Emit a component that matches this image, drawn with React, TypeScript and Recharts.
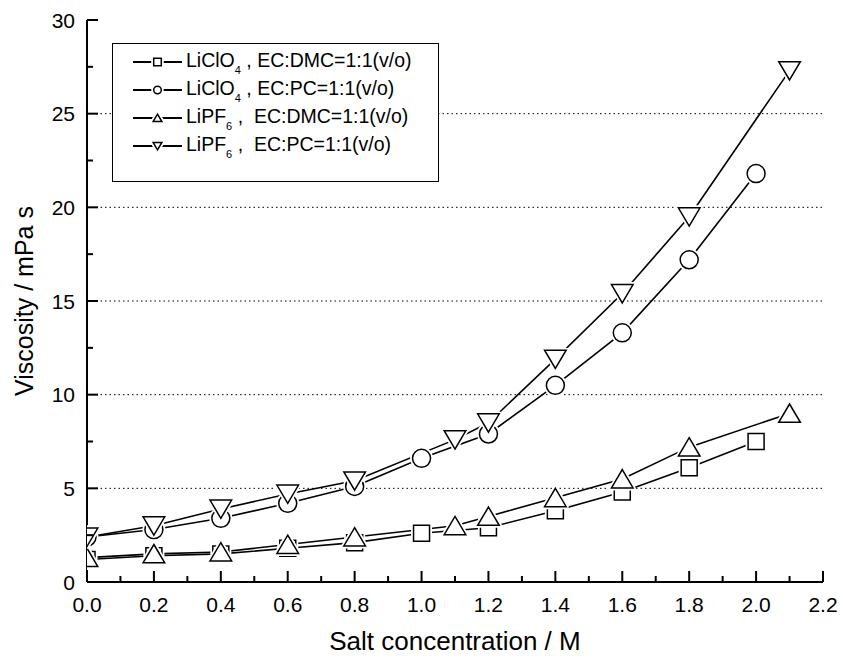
import React from 'react'
import { LineChart, Line, XAxis, YAxis, CartesianGrid, Legend } from 'recharts'

// axis ticks (major + minor)
const xTicks = [0, 0.1, 0.2, 0.3, 0.4, 0.5, 0.6, 0.7, 0.8, 0.9, 1.0, 1.1, 1.2, 1.3, 1.4, 1.5, 1.6, 1.7, 1.8, 1.9, 2.0, 2.1, 2.2]
const yTicks = [0, 2.5, 5, 7.5, 10, 12.5, 15, 17.5, 20, 22.5, 25, 27.5, 30]
const yGridValues = [5, 10, 15, 20, 25]

// LiClO4, EC:DMC
const clo4DmcX = [0, 0.2, 0.4, 0.6, 0.8, 1.0, 1.2, 1.4, 1.6, 1.8, 2.0]
const clo4DmcY = [1.2, 1.4, 1.5, 1.8, 2.1, 2.6, 2.9, 3.8, 4.8, 6.1, 7.5]
// LiClO4, EC:PC
const clo4PcX = [0, 0.2, 0.4, 0.6, 0.8, 1.0, 1.2, 1.4, 1.6, 1.8, 2.0]
const clo4PcY = [2.4, 2.8, 3.4, 4.2, 5.1, 6.6, 7.9, 10.5, 13.3, 17.2, 21.8]
// LiPF6, EC:DMC
const pf6DmcX = [0, 0.2, 0.4, 0.6, 0.8, 1.1, 1.2, 1.4, 1.6, 1.8, 2.1]
const pf6DmcY = [1.3, 1.5, 1.6, 2.0, 2.4, 3.0, 3.5, 4.5, 5.5, 7.2, 9.0]
// LiPF6, EC:PC
const pf6PcX = [0, 0.2, 0.4, 0.6, 0.8, 1.1, 1.2, 1.4, 1.6, 1.8, 2.1]
const pf6PcY = [2.4, 3.0, 3.9, 4.7, 5.4, 7.6, 8.5, 11.9, 15.4, 19.5, 27.3]

type Shape = 'square' | 'circle' | 'up' | 'down'

const toPoints = (xs: number[], ys: number[]) => xs.map((x, i) => ({ x, y: ys[i] }))

const series: { key: string; salt: string; sub: string; solvent: string; shape: Shape; data: { x: number; y: number }[] }[] = [
  { key: 'clo4Dmc', salt: 'LiClO', sub: '4', solvent: ' , EC:DMC=1:1(v/o)', shape: 'square', data: toPoints(clo4DmcX, clo4DmcY) },
  { key: 'clo4Pc', salt: 'LiClO', sub: '4', solvent: ' , EC:PC=1:1(v/o)', shape: 'circle', data: toPoints(clo4PcX, clo4PcY) },
  { key: 'pf6Dmc', salt: 'LiPF', sub: '6', solvent: ' ,  EC:DMC=1:1(v/o)', shape: 'up', data: toPoints(pf6DmcX, pf6DmcY) },
  { key: 'pf6Pc', salt: 'LiPF', sub: '6', solvent: ' ,  EC:PC=1:1(v/o)', shape: 'down', data: toPoints(pf6PcX, pf6PcY) },
]

const FONT = '"Liberation Sans", Arial, sans-serif'

function markerPath(shape: Shape, cx: number, cy: number, s: number) {
  // s = half size
  if (shape === 'square') return `M${cx - s},${cy - s}H${cx + s}V${cy + s}H${cx - s}Z`
  if (shape === 'up') return `M${cx},${cy - s}L${cx + s * 1.15},${cy + s * 0.95}H${cx - s * 1.15}Z`
  if (shape === 'down') return `M${cx},${cy + s}L${cx + s * 1.15},${cy - s * 0.95}H${cx - s * 1.15}Z`
  return ''
}

function Marker({ shape, cx, cy, s, halo }: { shape: Shape; cx: number; cy: number; s: number; halo?: boolean }) {
  if (shape === 'circle') {
    return (
      <g>
        {halo && <circle cx={cx} cy={cy} r={s} fill="#fff" stroke="#fff" strokeWidth={5} />}
        <circle cx={cx} cy={cy} r={s} fill="#fff" stroke="#000" strokeWidth={1.5} />
      </g>
    )
  }
  const d = markerPath(shape, cx, cy, s)
  return (
    <g>
      {halo && <path d={d} fill="#fff" stroke="#fff" strokeWidth={5} strokeLinejoin="round" />}
      <path d={d} fill="#fff" stroke="#000" strokeWidth={1.5} />
    </g>
  )
}

const markerSize: Record<Shape, number> = { square: 8, circle: 9, up: 9.4, down: 9.4 }

const isMajorX = (v: number) => Math.round(v * 10) % 2 === 0
const isMajorY = (v: number) => v % 5 === 0

function BottomTick(props: any) {
  const { x, y, payload } = props
  const major = isMajorX(payload.value)
  return (
    <g>
      <line x1={x} x2={x} y1={y} y2={y - (major ? 11 : 6)} stroke="#000" strokeWidth={2} />
      {major && (
        <text x={x} y={y + 30} textAnchor="middle" fontSize={21} fontFamily={FONT} fill="#000">
          {payload.value.toFixed(1)}
        </text>
      )}
    </g>
  )
}

function TopTick(props: any) {
  const { x, y, payload } = props
  const major = isMajorX(payload.value)
  return <line x1={x} x2={x} y1={y} y2={y + (major ? 11 : 6)} stroke="#000" strokeWidth={2} />
}

function LeftTick(props: any) {
  const { x, y, payload } = props
  const major = isMajorY(payload.value)
  return (
    <g>
      <line x1={x} x2={x + (major ? 11 : 6)} y1={y} y2={y} stroke="#000" strokeWidth={2} />
      {major && (
        <text x={x - 12} y={y + 7.5} textAnchor="end" fontSize={21} fontFamily={FONT} fill="#000">
          {payload.value}
        </text>
      )}
    </g>
  )
}

function RightTick(props: any) {
  const { x, y, payload } = props
  const major = isMajorY(payload.value)
  return <line x1={x} x2={x - (major ? 11 : 6)} y1={y} y2={y} stroke="#000" strokeWidth={2} />
}

function LegendBox() {
  return (
    <div
      style={{
        width: 327,
        height: 139,
        boxSizing: 'border-box',
        border: '1.5px solid #000',
        background: '#fff',
        paddingTop: 4,
        paddingLeft: 20,
        fontFamily: FONT,
        fontSize: 19.5,
        color: '#000',
      }}
    >
      {series.map((s) => (
        <div key={s.key} style={{ display: 'flex', alignItems: 'center', height: 28, whiteSpace: 'pre' }}>
          <svg width={49} height={20} style={{ display: 'block' }}>
            <line x1={0} x2={49} y1={10} y2={10} stroke="#000" strokeWidth={1.8} />
            <Marker shape={s.shape} cx={24.5} cy={10} s={3.8} halo />
          </svg>
          <span style={{ marginLeft: 4 }}>
            {s.salt}
            <sub style={{ fontSize: 11, verticalAlign: -7 }}>{s.sub}</sub>
            {s.solvent}
          </span>
        </div>
      ))}
    </div>
  )
}

export default function App() {
  return (
    <div style={{ position: 'absolute', left: 0, top: 0, background: '#fff' }}>
      <LineChart width={843} height={661} margin={{ top: 20, right: 20, bottom: 0, left: 0 }} style={{ fontFamily: FONT }}>
        <CartesianGrid
          xAxisId="b"
          yAxisId="l"
          vertical={false}
          horizontalValues={yGridValues}
          stroke="#000"
          strokeWidth={1}
          strokeDasharray="1.5 3"
        />
        <XAxis
          xAxisId="b"
          dataKey="x"
          type="number"
          domain={[0, 2.2]}
          ticks={xTicks}
          interval={0}
          allowDataOverflow
          height={79}
          tickSize={0}
          tickMargin={0}
          tickLine={false}
          tick={<BottomTick />}
          axisLine={{ stroke: '#000', strokeWidth: 2 }}
          label={(p: any) => (
            <text
              x={p.viewBox.x + p.viewBox.width / 2}
              y={p.viewBox.y + 68}
              textAnchor="middle"
              fontSize={26}
              fontFamily={FONT}
              fill="#000"
            >
              Salt concentration / M
            </text>
          )}
        />
        <XAxis
          xAxisId="t"
          orientation="top"
          dataKey="x"
          type="number"
          domain={[0, 2.2]}
          ticks={xTicks}
          interval={0}
          allowDataOverflow
          height={0}
          tickSize={0}
          tickMargin={0}
          tickLine={false}
          tick={<TopTick />}
          axisLine={{ stroke: '#000', strokeWidth: 2 }}
        />
        <YAxis
          yAxisId="l"
          type="number"
          domain={[0, 30]}
          ticks={yTicks}
          interval={0}
          allowDataOverflow
          width={87}
          tickSize={0}
          tickMargin={0}
          tickLine={false}
          tick={<LeftTick />}
          axisLine={{ stroke: '#000', strokeWidth: 2 }}
          label={(p: any) => {
            const cx = 33
            const cy = p.viewBox.y + p.viewBox.height / 2
            return (
              <text
                x={cx}
                y={cy}
                transform={`rotate(-90, ${cx}, ${cy})`}
                textAnchor="middle"
                fontSize={25}
                fontFamily={FONT}
                fill="#000"
              >
                Viscosity / mPa s
              </text>
            )
          }}
        />
        <YAxis
          yAxisId="r"
          orientation="right"
          type="number"
          domain={[0, 30]}
          ticks={yTicks}
          interval={0}
          allowDataOverflow
          width={0}
          tickSize={0}
          tickMargin={0}
          tickLine={false}
          tick={<RightTick />}
          axisLine={{ stroke: '#000', strokeWidth: 2 }}
        />
        <Legend
          layout="horizontal"
          verticalAlign="middle"
          align="center"
          wrapperStyle={{ left: 112, top: 43, width: 'auto', height: 'auto' }}
          content={() => <LegendBox />}
        />
        {series.map((s) => (
          <Line
            key={s.key}
            xAxisId="b"
            yAxisId="l"
            data={s.data}
            dataKey="y"
            name={s.key}
            stroke="#000"
            strokeWidth={1.6}
            isAnimationActive={false}
            dot={(p: any) => (
              <Marker key={`${s.key}-${p.index}`} shape={s.shape} cx={p.cx} cy={p.cy} s={markerSize[s.shape]} halo />
            )}
            activeDot={false}
          />
        ))}
      </LineChart>
    </div>
  )
}
